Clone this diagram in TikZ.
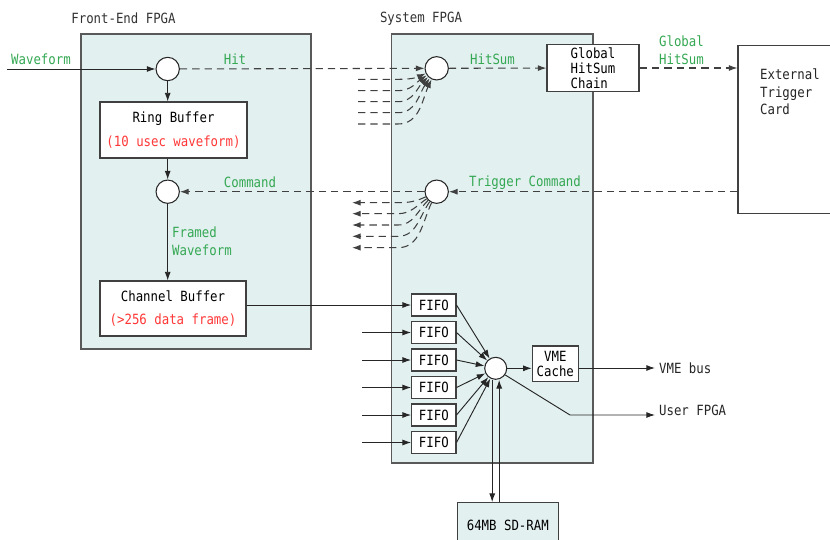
\documentclass[tikz,border=0pt]{standalone}
\usepackage{fontspec}
\usepackage{tikz}
\usetikzlibrary{arrows.meta,positioning,calc}
\newfontfamily\gothfont[FakeStretch=0.88]{DejaVu Sans Mono}
\newcommand{\diagfont}{\gothfont\fontsize{12}{15}\selectfont}
\newcommand{\tightfont}{\gothfont\fontsize{12}{13}\selectfont}
\definecolor{fpgafill}{RGB}{227,240,240}
\definecolor{siggreen}{RGB}{52,168,83}
\definecolor{bufred}{RGB}{255,55,55}
\tikzset{
  fpga/.style={draw=black!65, fill=fpgafill, line width=1.1pt, inner sep=0pt},
  box/.style={draw=black!75, fill=white, line width=0.9pt, align=center, inner sep=2pt, font=\diagfont},
  junction/.style={circle, draw=black!85, fill=white, minimum size=7mm, inner sep=0pt, line width=0.9pt},
  title/.style={font=\diagfont, text=black!80},
  lbl/.style={font=\diagfont, text=black!85},
  sig/.style={font=\diagfont, text=siggreen},
  arrow/.style={-{Latex[length=2.6mm,width=1.8mm]}, line width=0.8pt, draw=black!85},
  dasharrow/.style={arrow, draw=black!75, line width=0.9pt, dash pattern=on 2.2mm off 1.5mm}
}

\begin{document}
\begin{tikzpicture}[x=0.3mm, y=-0.3mm]
\useasboundingbox (0,0) rectangle (830,539);
\clip (0,0) rectangle (830,539);
% the two FPGAs
\node[fpga, minimum width=69mm, minimum height=94.5mm] (fe) at (196,191.5) {};
\node[fpga, minimum width=60.45mm, minimum height=128.7mm] (sys) at (492.25,248.5) {};
\node[title] (fetitle) at (123.5,18) {Front-End FPGA};
\node[title] (systitle) at (421,19) {System FPGA};

% front-end chain
\node[junction] (hit) at (167.7,69) {};
\node[box, minimum width=44.1mm, minimum height=16.8mm] (ring) at (173.5,130) {Ring Buffer\\[5pt]{\color{bufred}(10 usec waveform)}};
\node[junction] (cmd) at (167.7,191.7) {};
\node[box, minimum width=43.8mm, minimum height=16.5mm] (chan) at (173,308.5) {Channel Buffer\\[5pt]{\color{bufred}(>256 data frame)}};

% system FPGA
\node[junction] (hitsum) at (436.7,68.3) {};
\node[junction] (trig) at (436.7,191.7) {};
\node[box, minimum width=27.6mm, minimum height=13.5mm, align=left, font=\tightfont] (ghc) at (593,68) {Global\\HitSum\\Chain};
\foreach \i/\y in {1/305,2/332.5,3/360,4/387.5,5/415,6/442.5}
  \node[box, minimum width=13.3mm, minimum height=6.6mm, inner sep=0pt] (fifo\i) at (433.8,\y) {FIFO};
\node[junction, minimum size=6.6mm] (mux) at (495.7,368.3) {};
\node[box, minimum width=13.8mm, minimum height=10.7mm, inner sep=0pt, font=\tightfont] (vme) at (555.3,363.8) {VME\\Cache};
\node[box, fill=fpgafill, minimum width=30.3mm, minimum height=13.4mm] (sdram) at (507.8,525) {64MB SD-RAM};

% trigger card
\node[box, minimum width=29.1mm, minimum height=50.25mm] (ext) at (786.5,129.3) {};
\node[lbl, align=left, anchor=west] (extlbl) at (756,92) {External\\Trigger\\Card};

% signal names
\node[sig] (wavelbl) at (41,59.5) {Waveform};
\node[sig] (hitlbl) at (235,59.5) {Hit};
\node[sig] (cmdlbl) at (250,182.5) {Command};
\node[sig, align=left, anchor=west] (framelbl) at (168,241) {Framed\\Waveform};
\node[sig] (hitsumlbl) at (492.5,59.5) {HitSum};
\node[sig] (trigcmdlbl) at (525,183) {Trigger Command};
\node[sig, align=left, anchor=west] (ghslbl) at (655,50) {Global\\HitSum};
\node[lbl, anchor=west] (vmebus) at (655,368) {VME bus};
\node[lbl, anchor=west] (userfpga) at (655,410) {User FPGA};

% waveform path
\draw[arrow] (wavelbl.west |- hit) -- (hit);
\draw[arrow] (hit) -- (hit |- ring.north);
\draw[arrow] (hit |- ring.south) -- (cmd);
\draw[arrow] (cmd) -- (cmd |- chan.north);

% hit / trigger loop
\draw[dasharrow] (hit) -- (hitsum);
\draw[dasharrow] (hitsum) -- (ghc);
\draw[dasharrow] (ghc) -- (ghc -| ext.west);
\draw[dasharrow] (ext.west |- trig) -- (trig);
\draw[dasharrow] (trig) -- (cmd);
\foreach \i/\y/\a in {1/79.3/205,2/90.7/215,3/101.7/225,4/112.7/235,5/124/245} {
  \coordinate (hin\i) at (358,\y);
  \draw[dasharrow] (hin\i) -- ++(40,0) to[out=0, in=\a] (hitsum.\a);
}
\foreach \i/\y/\a in {1/202.7/205,2/213.7/215,3/225/225,4/236.3/235,5/247.7/245} {
  \coordinate (tout\i) at (352,\y);
  \draw[dasharrow] (trig.\a) to[out=\a, in=0] (398,\y) -- (tout\i);
}

% readout
\draw[arrow] (chan.east |- fifo1) -- (fifo1);
\foreach \i in {2,...,6}
  \draw[arrow] ([xshift=-14.6mm]fifo\i.west) -- (fifo\i.west);
\foreach \i in {1,...,6}
  \draw[arrow] (fifo\i.east) -- (mux);
\draw[arrow] (mux.east) -- (mux.east -| vme.west);
\draw[arrow] (vme.east |- vmebus) -- (vmebus);
\coordinate (ubend) at (570,415);
\draw[arrow] (mux.-35) -- (ubend) -- (ubend -| userfpga.west);
\draw[arrow] ([xshift=-1.05mm]mux.south) -- ([xshift=-1.05mm]mux.south |- sdram.north);
\draw[arrow] ([xshift=1.05mm]mux.south |- sdram.north) -- ([xshift=1.05mm]mux.south);
\end{tikzpicture}
\end{document}
